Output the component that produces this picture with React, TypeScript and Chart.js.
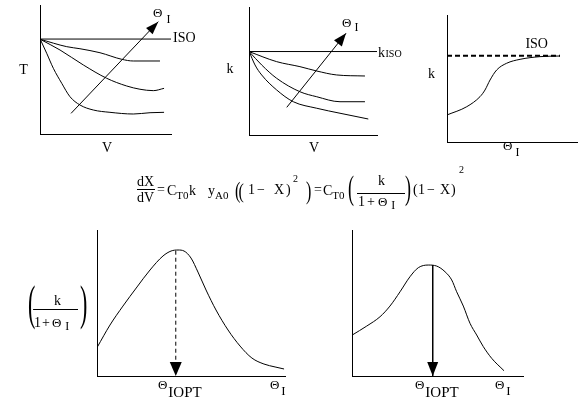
import React, { useEffect, useRef } from 'react';
import { Chart, registerables } from 'chart.js';

Chart.register(...registerables);

const FONT = "'Liberation Serif', 'Times New Roman', Times, serif";
const W = 588;
const H = 406;
const TH = 'Θ';

// ---------- Panel A: T vs V ----------
const A_ISO_X = [0, 10];
const A_ISO_Y = [7.36, 7.36];
const A_C1_X = [0.02, 2.04, 3.05, 4.58, 6.24, 7.12, 9.16];
const A_C1_Y = [7.34, 6.77, 6.61, 6.3, 5.79, 5.66, 5.66];
const A_C2_X = [0.02, 1.53, 3.31, 5.09, 6.62, 7.63, 8.65, 9.47];
const A_C2_Y = [7.34, 6.51, 5.35, 4.32, 3.72, 3.47, 3.36, 3.54];
const A_C3_X = [0.02, 0.51, 1.02, 1.66, 2.29, 3.05, 4.07, 5.34, 7.12, 8.4, 9.47];
const A_C3_Y = [7.34, 6.26, 5.09, 3.93, 2.89, 2.25, 1.86, 1.68, 1.55, 1.65, 1.68];
const A_ARROW_X = [2.37, 9.03];
const A_ARROW_Y = [1.6, 8.71];

// ---------- Panel B: k vs V ----------
const B_ISO_X = [0, 10];
const B_ISO_Y = [6.52, 6.52];
const B_C1_X = [0.02, 2.16, 3.98, 5.29, 6.85, 9.06];
const B_C1_Y = [6.51, 5.73, 5.34, 5.0, 4.69, 4.61];
const B_C2_X = [0.02, 0.99, 2.16, 3.98, 5.29, 7.11, 9.06];
const B_C2_Y = [6.51, 5.47, 4.43, 3.38, 2.99, 2.6, 2.6];
const B_C3_X = [0.02, 0.47, 0.99, 2.16, 3.46, 5.29, 7.11, 9.32];
const B_C3_Y = [6.51, 5.47, 4.69, 3.52, 2.6, 2.09, 1.7, 1.25];
const B_ARROW_X = [2.95, 7.58];
const B_ARROW_Y = [2.16, 7.95];

// ---------- Panel C: k vs Theta_I ----------
const C_ISO_X = [0, 8.69];
const C_ISO_Y = [6.8, 6.8];
const C_K_X = [0, 1.52, 2.54, 2.92, 3.31, 3.82, 4.59, 5.62, 7.15, 8.69];
const C_K_Y = [2.13, 2.78, 3.57, 4.09, 4.88, 5.67, 6.2, 6.51, 6.72, 6.77];

// ---------- Panel D: k/(1+Theta_I) vs Theta_I ----------
const D_X = [0.02, 0.69, 1.38, 2.13, 2.82, 3.51, 3.94, 4.31, 4.63, 5.0, 5.37, 5.8, 6.33, 6.97, 7.61, 8.24, 8.88, 9.47, 9.95];
const D_Y = [1.99, 3.49, 4.79, 6.1, 7.26, 8.22, 8.56, 8.63, 8.56, 8.08, 7.12, 5.89, 4.52, 3.15, 2.05, 1.23, 0.82, 0.62, 0.48];
const D_OPT_X = [4.19, 4.19];
const D_OPT_Y = [8.58, 0];

// ---------- Panel E: second optimum curve ----------
const E_X = [0.02, 0.86, 1.64, 2.22, 2.81, 3.39, 3.88, 4.46, 4.95, 5.44, 5.83, 6.12, 6.51, 6.9, 7.29, 7.68, 8.17, 8.89];
const E_Y = [2.81, 3.42, 4.06, 4.79, 5.77, 6.8, 7.42, 7.6, 7.53, 7.14, 6.58, 5.77, 4.79, 3.61, 2.81, 2.01, 1.21, 0.36];
const E_OPT_X = [4.72, 4.72];
const E_OPT_Y = [7.6, 0];

type Run = { t: string; size?: number; dx?: number; dy?: number };
type Item =
  | { kind: 'text'; x: number; y: number; runs: Run[]; align?: 'left' | 'center'; px?: boolean }
  | { kind: 'line'; x1: number; x2: number; y: number; px?: boolean }
  | { kind: 'paren'; ch: string; x: number; top: number; bottom: number; size: number; px?: boolean };

const txt = (x: number, y: number, runs: Run[] | string, align: 'left' | 'center' = 'left', px = false): Item => ({
  kind: 'text', x, y, runs: typeof runs === 'string' ? [{ t: runs }] : runs, align, px,
});

const pts = (xs: number[], ys: number[]) => xs.map((x, i) => ({ x, y: ys[i] }));

const curve = (xs: number[], ys: number[]) => ({
  data: pts(xs, ys), borderColor: '#000', borderWidth: 1, pointRadius: 0, fill: false,
  cubicInterpolationMode: 'monotone',
});
const straight = (xs: number[], ys: number[], extra: any = {}) => ({
  data: pts(xs, ys), borderColor: '#000', borderWidth: 1, pointRadius: 0, fill: false, tension: 0, ...extra,
});

const arrowPlugin = {
  id: 'arrowHeads',
  afterDatasetsDraw(chart: any) {
    const ctx = chart.ctx;
    chart.data.datasets.forEach((ds: any, i: number) => {
      if (!ds.arrowHead) return;
      const p = chart.getDatasetMeta(i).data;
      const a = p[p.length - 2];
      const b = p[p.length - 1];
      const dx = b.x - a.x;
      const dy = b.y - a.y;
      const L = Math.hypot(dx, dy);
      const ux = dx / L;
      const uy = dy / L;
      const { len, half } = ds.arrowHead;
      const bx = b.x - ux * len;
      const by = b.y - uy * len;
      ctx.save();
      ctx.fillStyle = '#000';
      ctx.beginPath();
      ctx.moveTo(b.x, b.y);
      ctx.lineTo(bx - uy * half, by + ux * half);
      ctx.lineTo(bx + uy * half, by - ux * half);
      ctx.closePath();
      ctx.fill();
      ctx.restore();
    });
  },
};

function makeTextPlugin(items: Item[]) {
  return {
    id: 'textLayer',
    afterDraw(chart: any) {
      const ctx = chart.ctx;
      const xs = chart.scales.x;
      const ys = chart.scales.y;
      const PX = (v: number, p?: boolean) => (p ? v : xs.getPixelForValue(v));
      const PY = (v: number, p?: boolean) => (p ? v : ys.getPixelForValue(v));
      ctx.save();
      ctx.fillStyle = '#000';
      ctx.strokeStyle = '#000';
      ctx.textAlign = 'left';
      ctx.textBaseline = 'alphabetic';
      for (const it of items) {
        if (it.kind === 'line') {
          const y = Math.round(PY(it.y, it.px)) + 0.5;
          ctx.lineWidth = 1;
          ctx.beginPath();
          ctx.moveTo(PX(it.x1, it.px), y);
          ctx.lineTo(PX(it.x2, it.px), y);
          ctx.stroke();
        } else if (it.kind === 'paren') {
          ctx.font = `${it.size}px ${FONT}`;
          const m = ctx.measureText(it.ch);
          const asc = m.actualBoundingBoxAscent;
          const desc = m.actualBoundingBoxDescent;
          const a = PY(it.top, it.px);
          const b = PY(it.bottom, it.px);
          const t = Math.min(a, b);
          const bt = Math.max(a, b);
          const sy = (bt - t) / (asc + desc);
          ctx.save();
          ctx.translate(PX(it.x, it.px), t);
          ctx.scale(1, sy);
          ctx.fillText(it.ch, 0, asc);
          ctx.restore();
        } else {
          let x = PX(it.x, it.px);
          const y = PY(it.y, it.px);
          if (it.align === 'center') {
            let w = 0;
            for (const r of it.runs) {
              ctx.font = `${r.size || 14}px ${FONT}`;
              w += (r.dx || 0) + ctx.measureText(r.t).width;
            }
            x -= w / 2;
          }
          for (const r of it.runs) {
            ctx.font = `${r.size || 14}px ${FONT}`;
            x += r.dx || 0;
            ctx.fillText(r.t, x, y + (r.dy || 0));
            x += ctx.measureText(r.t).width;
          }
        }
      }
      ctx.restore();
    },
  };
}

const thetaI = (x: number, y: number, dx = 3, dy = 6, isize = 12): Item =>
  txt(x, y, [{ t: TH, size: 13 }, { t: 'I', size: isize, dx, dy }]);
const thetaIopt = (x: number, y: number): Item =>
  txt(x, y, [{ t: TH, size: 13 }, { t: 'IOPT', size: 15, dx: 1, dy: 8 }]);

// equation (drawn in pixel space)
const EQUATION: Item[] = [
  txt(137, 186, 'dX', 'left', true),
  { kind: 'line', x1: 137, x2: 155, y: 189, px: true },
  txt(137, 202, 'dV', 'left', true),
  txt(157, 194, '=', 'left', true),
  txt(167, 195, [{ t: 'C' }, { t: 'T0', size: 11, dy: 4 }], 'left', true),
  txt(189, 195, 'k', 'left', true),
  txt(208, 195, [{ t: 'y' }, { t: 'A0', size: 11, dy: 4 }], 'left', true),
  { kind: 'paren', ch: '(', x: 235, top: 180, bottom: 204, size: 16, px: true },
  { kind: 'paren', ch: '(', x: 238.5, top: 181, bottom: 203, size: 16, px: true },
  txt(248, 194, '1', 'left', true),
  txt(257, 194, '−', 'left', true),
  txt(274, 194, 'X', 'left', true),
  txt(286, 194, ')', 'left', true),
  txt(293, 182, [{ t: '2', size: 10 }], 'left', true),
  { kind: 'paren', ch: ')', x: 306, top: 179, bottom: 205, size: 16, px: true },
  txt(314, 194, '=', 'left', true),
  txt(323, 195, [{ t: 'C' }, { t: 'T0', size: 11, dy: 4 }], 'left', true),
  { kind: 'paren', ch: '(', x: 348, top: 173, bottom: 208, size: 18, px: true },
  txt(381.5, 185, 'k', 'center', true),
  { kind: 'line', x1: 357, x2: 405, y: 193, px: true },
  txt(358, 206, [{ t: '1' }, { t: '+', dx: 2 }, { t: TH, size: 13, dx: 3 }, { t: 'I', size: 12, dx: 4, dy: 3 }], 'left', true),
  { kind: 'paren', ch: ')', x: 405, top: 173, bottom: 208, size: 18, px: true },
  txt(413, 194, '(', 'left', true),
  txt(418, 194, '1', 'left', true),
  txt(427, 194, '−', 'left', true),
  txt(440, 194, 'X', 'left', true),
  txt(451, 194, ')', 'left', true),
  txt(459, 173, [{ t: '2', size: 10 }], 'left', true),
];

function makeConfig(datasets: any[], pad: { left: number; top: number; right: number; bottom: number }, items: Item[]) {
  const axis = {
    type: 'linear',
    min: 0,
    max: 10,
    grid: { display: false, drawTicks: false },
    border: { display: true, color: '#000', width: 1 },
    ticks: { display: false },
  };
  return {
    type: 'line',
    data: { datasets },
    options: {
      responsive: false,
      animation: false,
      events: [],
      layout: { padding: pad, autoPadding: false },
      plugins: { legend: { display: false }, tooltip: { enabled: false }, title: { display: false } },
      scales: { x: { ...axis }, y: { ...axis } },
    },
    plugins: [arrowPlugin, makeTextPlugin(items)],
  };
}

const CONFIGS: (() => any)[] = [
  () =>
    makeConfig(
      [
        straight(A_ISO_X, A_ISO_Y),
        curve(A_C1_X, A_C1_Y),
        curve(A_C2_X, A_C2_Y),
        curve(A_C3_X, A_C3_Y),
        { ...straight(A_ARROW_X, A_ARROW_Y), arrowHead: { len: 13, half: 4.5 } },
      ],
      { left: 40, top: 5, right: W - 171, bottom: H - 134 },
      [
        txt(-1.26, 4.65, 'T', 'center'),
        txt(5.11, -1.4, 'V', 'center'),
        txt(10.15, 7.13, 'ISO'),
        thetaI(8.63, 9.07, 4, 6),
        ...EQUATION,
      ]
    ),
  () =>
    makeConfig(
      [
        straight(B_ISO_X, B_ISO_Y),
        curve(B_C1_X, B_C1_Y),
        curve(B_C2_X, B_C2_Y),
        curve(B_C3_X, B_C3_Y),
        { ...straight(B_ARROW_X, B_ARROW_Y), arrowHead: { len: 13, half: 5 } },
      ],
      { left: 249, top: 7, right: W - 377, bottom: H - 135 },
      [
        txt(-1.48, 4.82, 'k', 'center'),
        txt(5.08, -1.3, 'V', 'center'),
        txt(10.08, 6.09, [{ t: 'k' }, { t: 'ISO', size: 10, dx: 0.5 }]),
        thetaI(7.27, 8.44, 3, 4),
      ]
    ),
  () =>
    makeConfig(
      [straight(C_ISO_X, C_ISO_Y, { borderWidth: 2, borderDash: [5, 3] }), curve(C_K_X, C_K_Y)],
      { left: 447, top: 15, right: W - 577, bottom: H - 142 },
      [txt(-1.19, 5.02, 'k', 'center'), txt(6.9, 7.38, 'ISO', 'center'), thetaI(4.31, -0.63, 3, 6)]
    ),
  () =>
    makeConfig(
      [
        curve(D_X, D_Y),
        { ...straight(D_OPT_X, D_OPT_Y, { borderDash: [4, 3] }), arrowHead: { len: 14, half: 6 } },
      ],
      { left: 97, top: 230, right: W - 285, bottom: H - 376 },
      [
        thetaIopt(3.24, -0.89),
        thetaI(9.2, -0.89, 2, 6, 13),
        { kind: 'paren', ch: '(', x: -3.67, top: 6.23, bottom: 3.15, size: 22 },
        txt(-2.1, 4.86, 'k', 'center'),
        { kind: 'line', x1: -3.4, x2: -1.01, y: 4.57 },
        txt(-3.35, 3.36, [{ t: '1' }, { t: '+', dx: 1 }, { t: TH, size: 13, dx: 2 }, { t: 'I', size: 12, dx: 4, dy: 3 }]),
        { kind: 'paren', ch: ')', x: -0.9, top: 6.23, bottom: 3.15, size: 22 },
      ]
    ),
  () =>
    makeConfig(
      [curve(E_X, E_Y), { ...straight(E_OPT_X, E_OPT_Y), arrowHead: { len: 14, half: 5.5 } }],
      { left: 352, top: 230, right: W - 523, bottom: H - 376 },
      [thetaIopt(3.68, -0.89), thetaI(8.36, -0.89, 2, 6, 13)]
    ),
];

function Panel({ make }: { make: () => any }) {
  const ref = useRef<HTMLCanvasElement>(null);
  useEffect(() => {
    const chart = new Chart(ref.current as HTMLCanvasElement, make());
    return () => chart.destroy();
  }, [make]);
  return (
    <canvas
      ref={ref}
      width={W}
      height={H}
      style={{ position: 'absolute', left: 0, top: 0, width: W, height: H }}
    />
  );
}

export default function App() {
  return (
    <div style={{ position: 'absolute', left: 0, top: 0, width: W, height: H, background: '#fff', overflow: 'hidden' }}>
      {CONFIGS.map((make, i) => (
        <Panel key={i} make={make} />
      ))}
    </div>
  );
}
